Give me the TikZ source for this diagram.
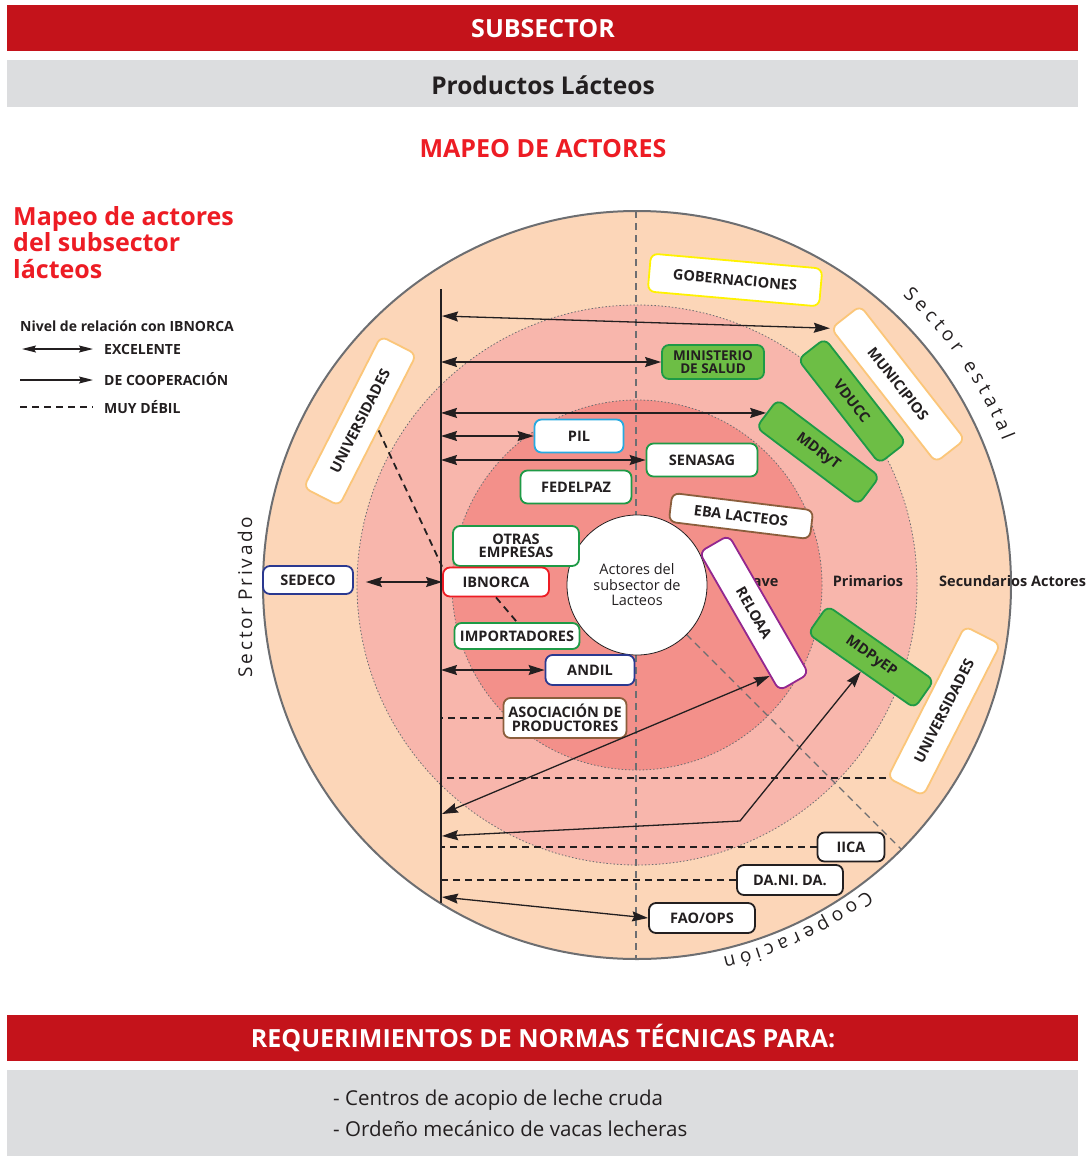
\documentclass[tikz,border=0pt]{standalone}
\usepackage{fontspec}
\setmainfont{Open Sans}
\newfontfamily\spaced[LetterSpace=14]{Open Sans}
\usetikzlibrary{arrows.meta,calc,decorations.text}

\definecolor{rojo}{HTML}{C4131B}
\definecolor{rojotit}{HTML}{ED1C24}
\definecolor{grisbar}{HTML}{DCDDDF}
\definecolor{tinta}{HTML}{231F20}
\definecolor{gris}{HTML}{6D6E71}
\definecolor{melocoton}{HTML}{FCD6B8}
\definecolor{rosa}{HTML}{F8B6AC}
\definecolor{rosafuerte}{HTML}{F3908A}
\definecolor{verdef}{HTML}{6DBE45}
\definecolor{verdeb}{HTML}{1E9A46}
\definecolor{celeste}{HTML}{27AAE1}
\definecolor{azul}{HTML}{2B3990}
\definecolor{cafe}{HTML}{8B5E3C}
\definecolor{morado}{HTML}{93278F}
\definecolor{naranja}{HTML}{FBC679}
\definecolor{amarillo}{HTML}{FFF200}

\tikzset{
  actor/.style={draw, fill=white, rounded corners=7pt, line width=1.8pt,
    inner sep=0pt, align=center, text=tinta,
    font=\fontsize{14.5}{13.5}\selectfont\bfseries},
  verde/.style={actor, draw=verdeb, fill=verdef},
  punta/.tip={Stealth[length=16pt,width=10pt,inset=2pt]},
  excel/.style={punta-punta, line width=1.3pt, draw=tinta},
  debil/.style={dash pattern=on 7pt off 5pt, line width=1.8pt, draw=tinta},
  sepgris/.style={dash pattern=on 7pt off 5pt, line width=1.3pt, draw=gris},
  anillo/.style={draw=gris, line width=0.8pt, dash pattern=on 1.5pt off 2pt},
  arcotexto/.style={decorate, decoration={text along path, text align=fit to path,
    text={|\fontsize{19}{19}\selectfont\color{tinta}|#1}}},
}

\begin{document}
\begin{tikzpicture}[x=1pt, y=-1pt]
    \useasboundingbox (0,0) rectangle (1088,1156);

    % 标题栏
    \fill[rojo] (7,5) rectangle (1078,51);
    \node[font=\fontsize{25}{25}\selectfont\bfseries, text=white] (subsector) at (543,29) {SUBSECTOR};
    \fill[grisbar] (7,60) rectangle (1078,107);
    \node[font=\fontsize{24.5}{25}\selectfont\bfseries, text=tinta] (producto) at (543,85) {Productos Lácteos};
    \node[font=\fontsize{25}{25}\selectfont\bfseries, text=rojotit] (mapeo) at (543,149) {MAPEO DE ACTORES};

    % 左上标题和图例
    \node[anchor=north west, inner sep=0pt, align=left, text=rojotit,
          font=\fontsize{25}{26.5}\selectfont\bfseries] (titulo) at (13,206)
          {Mapeo de actores\\del subsector\\lácteos};
    \node[anchor=west, inner sep=0pt, text=tinta, font=\fontsize{14}{14}\selectfont\bfseries]
          (nivel) at (20,326) {Nivel de relación con IBNORCA};
    \node[anchor=west, inner sep=0pt, text=tinta, font=\fontsize{14}{14}\selectfont\bfseries]
          (excelente) at (104,349) {EXCELENTE};
    \node[anchor=west, inner sep=0pt, text=tinta, font=\fontsize{14}{14}\selectfont\bfseries]
          (cooperacion) at (104,379) {DE COOPERACIÓN};
    \node[anchor=west, inner sep=0pt, text=tinta, font=\fontsize{14}{14}\selectfont\bfseries]
          (muydebil) at (104,407) {MUY DÉBIL};
    \draw[excel, {Stealth[length=14pt,width=7pt,inset=2pt]}-{Stealth[length=14pt,width=7pt,inset=2pt]}]
          (22,349) -- ([xshift=-11pt]excelente.west);
    \draw[excel, -{Stealth[length=14pt,width=7pt,inset=2pt]}]
          (20,380) -- ([xshift=-11pt]cooperacion.west |- 0,380);
    \draw[debil, line width=1.3pt] (20,407) -- ([xshift=-11pt]muydebil.west);

    % 同心圆
    \coordinate (C) at (637,585);
    \filldraw[fill=melocoton, draw=gris, line width=2pt] (C) circle[radius=374];
    \fill[rosa] (C) circle[radius=280];
    \draw[anillo] (C) circle[radius=280];
    \fill[rosafuerte] (C) circle[radius=185];
    \draw[anillo] (C) circle[radius=185];

    % 分区虚线
    \draw[sepgris] (636,211) -- (636,959);
    \draw[sepgris] ($(C)+(45:70)$) -- ($(C)+(45:374)$);

    \node[circle, draw=tinta, line width=0.8pt, fill=white, minimum size=140pt, inner sep=0pt,
          align=center, text=tinta, font=\fontsize{14.5}{15.5}\selectfont] (centro) at (C)
          {Actores del\\subsector de\\Lacteos};

    % 圈层名称
    \node[anchor=east, text=tinta, font=\fontsize{14.5}{15}\selectfont\bfseries] (clave) at (782,581) {Clave};
    \node[text=tinta, font=\fontsize{14.5}{15}\selectfont\bfseries] (primarios) at (868,581) {Primarios};
    \node[anchor=west, inner sep=0pt, text=tinta, font=\fontsize{14.5}{15}\selectfont\bfseries]
          (secundarios) at (939,581) {Secundarios Actores};

    % 扇区名称
    \path[arcotexto={Sector estatal}] ($(C)+(-47.5:393)$) arc[start angle=-47.5, end angle=-21.5, radius=393];
    \path[arcotexto={Cooperación}] ($(C)+(53:382)$) arc[start angle=53, end angle=77, radius=382];
    \node[rotate=90, text=tinta, font=\spaced\fontsize{19}{19}\selectfont] (privado) at (245,597) {Sector Privado};

    % IBNORCA 竖线
    \coordinate (vtop) at (441,289);
    \coordinate (vbot) at (441,903);
    \draw[tinta, line width=1.5pt] (vtop) -- (vbot);

    % 各个机构
    \node[actor, draw=amarillo, rotate=-5, minimum width=172pt, minimum height=38pt] (gobern) at (735,280) {GOBERNACIONES};
    \node[actor, draw=naranja, rotate=-52, minimum width=170pt, minimum height=37pt] (municipios) at (898,384) {MUNICIPIOS};
    \node[verde, rotate=-52, minimum width=132pt, minimum height=34pt] (vducc) at (852,401) {VDUCC};
    \node[verde, rotate=-37, minimum width=128pt, minimum height=35pt] (mdryt) at (818,452) {MDRyT};
    \node[verde, minimum width=102pt, minimum height=34pt, font=\fontsize{13.5}{12.5}\selectfont\bfseries] (ministerio) at (713,362) {MINISTERIO\\DE SALUD};
    \node[actor, draw=celeste, minimum width=89pt, minimum height=33pt] (pil) at (579,436) {PIL};
    \node[actor, draw=verdeb, minimum width=111pt, minimum height=33pt] (senasag) at (702,460) {SENASAG};
    \node[actor, draw=verdeb, minimum width=111pt, minimum height=33pt] (fedelpaz) at (576,487) {FEDELPAZ};
    \node[actor, draw=cafe, rotate=-7, minimum width=142pt, minimum height=29pt] (eba) at (741,516) {EBA LACTEOS};
    \node[actor, draw=verdeb, minimum width=126pt, minimum height=40pt] (otras) at (516,546) {OTRAS\\EMPRESAS};
    \node[actor, draw=rojotit, minimum width=106pt, minimum height=29pt] (ibnorca) at (496,582) {IBNORCA};
    \node[actor, draw=azul, minimum width=90pt, minimum height=28pt] (sedeco) at (308,580) {SEDECO};
    \node[actor, draw=verdeb, minimum width=125pt, minimum height=26pt] (importadores) at (517,636) {IMPORTADORES};
    \node[actor, draw=azul, minimum width=89pt, minimum height=30pt] (andil) at (590,670) {ANDIL};
    \node[actor, draw=cafe, minimum width=123pt, minimum height=40pt] (asociacion) at (565,718) {ASOCIACIÓN DE\\PRODUCTORES};
    \node[actor, draw=morado, rotate=-60, minimum width=160pt, minimum height=34pt] (reloaa) at (754,613) {RELOAA};
    \node[verde, rotate=-35, minimum width=130pt, minimum height=34pt] (mdpyep) at (871,657) {MDPyEP};
    \node[actor, draw=naranja, rotate=63, minimum width=170pt, minimum height=40pt] (univL) at (360,421) {UNIVERSIDADES};
    \node[actor, draw=naranja, rotate=63, minimum width=170pt, minimum height=40pt] (univR) at (944,711) {UNIVERSIDADES};
    \node[actor, draw=tinta, minimum width=67pt, minimum height=29pt] (iica) at (851,847) {IICA};
    \node[actor, draw=tinta, minimum width=106pt, minimum height=30pt] (danida) at (790,880) {DA.NI. DA.};
    \node[actor, draw=tinta, minimum width=106pt, minimum height=30pt] (fao) at (702,918) {FAO/OPS};

    % 关系
    \coordinate (pMun) at (442,316);
    \coordinate (pRel) at (442,814);
    \coordinate (pMdp) at (442,836);
    \coordinate (qMdp) at (740,821);
    \coordinate (pFao) at (442,897);
    \draw[excel] (pMun) -- (municipios.south west);
    \draw[excel] (ministerio.west -| vtop) -- (ministerio.west);
    \draw[excel] (mdryt.west -| vtop) -- (mdryt.west);
    \draw[excel] (pil.west -| vtop) -- (pil.west);
    \draw[excel] (senasag.west -| vtop) -- (senasag.west);
    \draw[excel, shorten <=12pt] (sedeco.east |- ibnorca.west) -- (ibnorca.west);
    \draw[excel] (andil.west -| vtop) -- (andil.west);
    \draw[excel] (pRel) -- (reloaa.-16);
    \draw[excel] (pMdp) -- (qMdp) -- (mdpyep.south);
    \draw[excel] (pFao) -- (fao.west);

    \draw[debil] (univL.south) -- (ibnorca.north west);
    \draw[debil] (ibnorca.south) -- (importadores.north);
    \draw[debil] (asociacion.west) -- (asociacion.west -| vtop);
    \draw[debil] (univR.north west) -- (univR.north west -| vtop);
    \draw[debil] (iica.west) -- (iica.west -| vtop);
    \draw[debil] (danida.west) -- (danida.west -| vtop);

    % 底部
    \fill[rojo] (7,1015) rectangle (1078,1061);
    \node[font=\fontsize{25}{25}\selectfont\bfseries, text=white] (req) at (543,1038) {REQUERIMIENTOS DE NORMAS TÉCNICAS PARA:};
    \fill[grisbar] (7,1070) rectangle (1078,1156);
    \node[anchor=west, inner sep=0pt, text=tinta, font=\fontsize{20.5}{20.5}\selectfont] (norma1) at (333,1100) {- Centros de acopio de leche cruda};
    \node[anchor=west, inner sep=0pt, text=tinta, font=\fontsize{20.5}{20.5}\selectfont] (norma2) at (333,1129) {- Ordeño mecánico de vacas lecheras};
\end{tikzpicture}
\end{document}
